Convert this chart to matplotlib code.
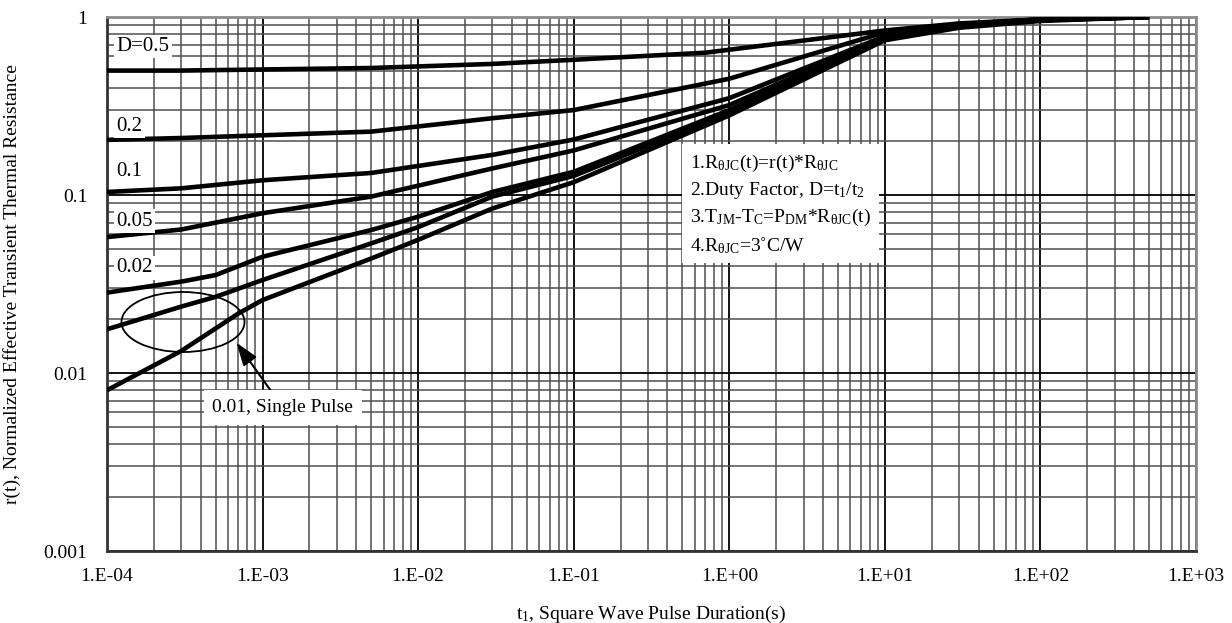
import matplotlib
matplotlib.use("Agg")
import matplotlib.pyplot as plt
from matplotlib.patches import Ellipse
from matplotlib.ticker import LogLocator, NullFormatter
import numpy as np

plt.rcParams['font.family'] = ['Liberation Serif', 'DejaVu Serif']
plt.rcParams['mathtext.fontset'] = 'custom'
plt.rcParams['mathtext.rm'] = 'Liberation Serif'
plt.rcParams['mathtext.it'] = 'Liberation Serif'
plt.rcParams['mathtext.default'] = 'regular'

# curves (t1 in s, r(t))
t_05 = [1e-4, 3e-4, 5e-3, 0.03, 0.1, 0.7, 10, 30, 100, 500]
r_05 = [0.50, 0.50, 0.517, 0.545, 0.575, 0.63, 0.84, 0.92, 0.97, 1.0]

t_02 = [1e-4, 3e-4, 5e-3, 0.03, 0.1, 1, 10, 30, 100, 500]
r_02 = [0.204, 0.209, 0.227, 0.27, 0.30, 0.45, 0.82, 0.91, 0.97, 1.0]

t_01 = [1e-4, 3e-4, 1e-3, 5e-3, 0.03, 0.1, 1, 10, 30, 100, 500]
r_01 = [0.104, 0.109, 0.121, 0.133, 0.168, 0.205, 0.35, 0.78, 0.90, 0.97, 1.0]

t_005 = [1e-4, 3e-4, 1e-3, 5e-3, 0.03, 0.1, 1, 10, 30, 100, 500]
r_005 = [0.058, 0.064, 0.079, 0.098, 0.141, 0.178, 0.32, 0.77, 0.89, 0.96, 1.0]

t_002 = [1e-4, 3e-4, 5e-4, 1e-3, 5e-3, 1e-2, 0.03, 0.1, 1, 10, 30, 100, 500]
r_002 = [0.0283, 0.0326, 0.0355, 0.045, 0.0636, 0.0755, 0.104, 0.135, 0.30, 0.76, 0.89, 0.96, 1.0]

t_001 = [1e-4, 3e-4, 5e-4, 1e-3, 5e-3, 1e-2, 0.03, 0.1, 1, 10, 30, 100, 500]
r_001 = [0.0176, 0.0236, 0.0268, 0.0333, 0.0535, 0.066, 0.098, 0.128, 0.29, 0.75, 0.88, 0.96, 1.0]

t_single = [1e-4, 3e-4, 7e-4, 1e-3, 5e-3, 1e-2, 0.03, 0.1, 1, 10, 30, 100, 500]
r_single = [0.0080, 0.0133, 0.0216, 0.0257, 0.044, 0.056, 0.084, 0.118, 0.28, 0.74, 0.87, 0.95, 1.0]

xticks = [1e-4, 1e-3, 1e-2, 1e-1, 1e0, 1e1, 1e2, 1e3]
xtick_labels = ["1.E-04", "1.E-03", "1.E-02", "1.E-01", "1.E+00", "1.E+01", "1.E+02", "1.E+03"]
yticks = [0.001, 0.01, 0.1, 1]
ytick_labels = ["0.001", "0.01", "0.1", "1"]

duty_labels = ["D=0.5", "0.2", "0.1", "0.05", "0.02"]
duty_label_y = [0.68, 0.244, 0.135, 0.0714, 0.0389]

notes = (r"1.R$_{\theta JC}$(t)=r(t)*R$_{\theta JC}$" + "\n"
         r"2.Duty Factor, D=t$_1$/t$_2$" + "\n"
         r"3.T$_{JM}$-T$_C$=P$_{DM}$*R$_{\theta JC}$(t)" + "\n"
         r"4.R$_{\theta JC}$=3˚C/W")

fig = plt.figure(figsize=(12.32, 6.23), dpi=100)
ax = fig.add_axes([107/1232, 1 - 551/623, 1089/1232, 534/623])

for t, r in [(t_05, r_05), (t_02, r_02), (t_01, r_01), (t_005, r_005),
             (t_002, r_002), (t_001, r_001), (t_single, r_single)]:
    ax.plot(t, r, color="black", lw=3.3, solid_capstyle="butt", zorder=3)

ax.set_xscale("log")
ax.set_yscale("log")
ax.set_xlim(1e-4, 1e3)
ax.set_ylim(1e-3, 1)

ax.xaxis.set_minor_locator(LogLocator(base=10, subs=np.arange(2, 10), numticks=100))
ax.yaxis.set_minor_locator(LogLocator(base=10, subs=np.arange(2, 10), numticks=100))
ax.xaxis.set_minor_formatter(NullFormatter())
ax.yaxis.set_minor_formatter(NullFormatter())
ax.set_xticks(xticks, xtick_labels)
ax.set_yticks(yticks, ytick_labels)
ax.tick_params(which="both", length=0, labelsize=14)
ax.tick_params(axis="x", pad=12)
ax.tick_params(axis="y", pad=14)

ax.grid(which="major", color="black", lw=1.3, zorder=1)
ax.grid(which="minor", color="#505050", lw=1.1, zorder=1)
ax.set_axisbelow(True)
for side in ["top", "right"]:
    ax.spines[side].set_color("#8c8c8c")
    ax.spines[side].set_linewidth(2)
for side in ["left", "bottom"]:
    ax.spines[side].set_color("#333333")
    ax.spines[side].set_linewidth(2)

for lab, y in zip(duty_labels, duty_label_y):
    ax.text(1.15e-4, y, lab, fontsize=15, va="center", ha="left", zorder=4,
            bbox=dict(facecolor="white", edgecolor="none", pad=1.5))

ax.text(0.535, 0.745, notes, transform=ax.transAxes, fontsize=14,
        va="top", ha="left", linespacing=1.4, zorder=4,
        bbox=dict(boxstyle="square,pad=0.4", facecolor="white", edgecolor="none"))

ell = Ellipse((0.0698, 0.4288), 0.113, 0.1124, transform=ax.transAxes,
              fill=False, edgecolor="black", lw=1.3, zorder=5)
ax.add_patch(ell)

ax.annotate("0.01, Single Pulse", xy=(6.8e-4, 0.0148), xytext=(1.35e-3, 0.0064),
            fontsize=14, ha="center", va="center", zorder=5,
            bbox=dict(boxstyle="square,pad=0.45", facecolor="white", edgecolor="none"),
            arrowprops=dict(arrowstyle="-|>,head_width=0.35,head_length=1.0",
                            color="black", lw=1.5, shrinkA=0, shrinkB=0))

ax.set_xlabel(r"t$_1$, Square Wave Pulse Duration(s)", fontsize=14, labelpad=14)
ax.set_ylabel("r(t), Normalized Effective Transient Thermal Resistance",
              fontsize=14, labelpad=16)

fig.savefig("out.png", dpi=100)
